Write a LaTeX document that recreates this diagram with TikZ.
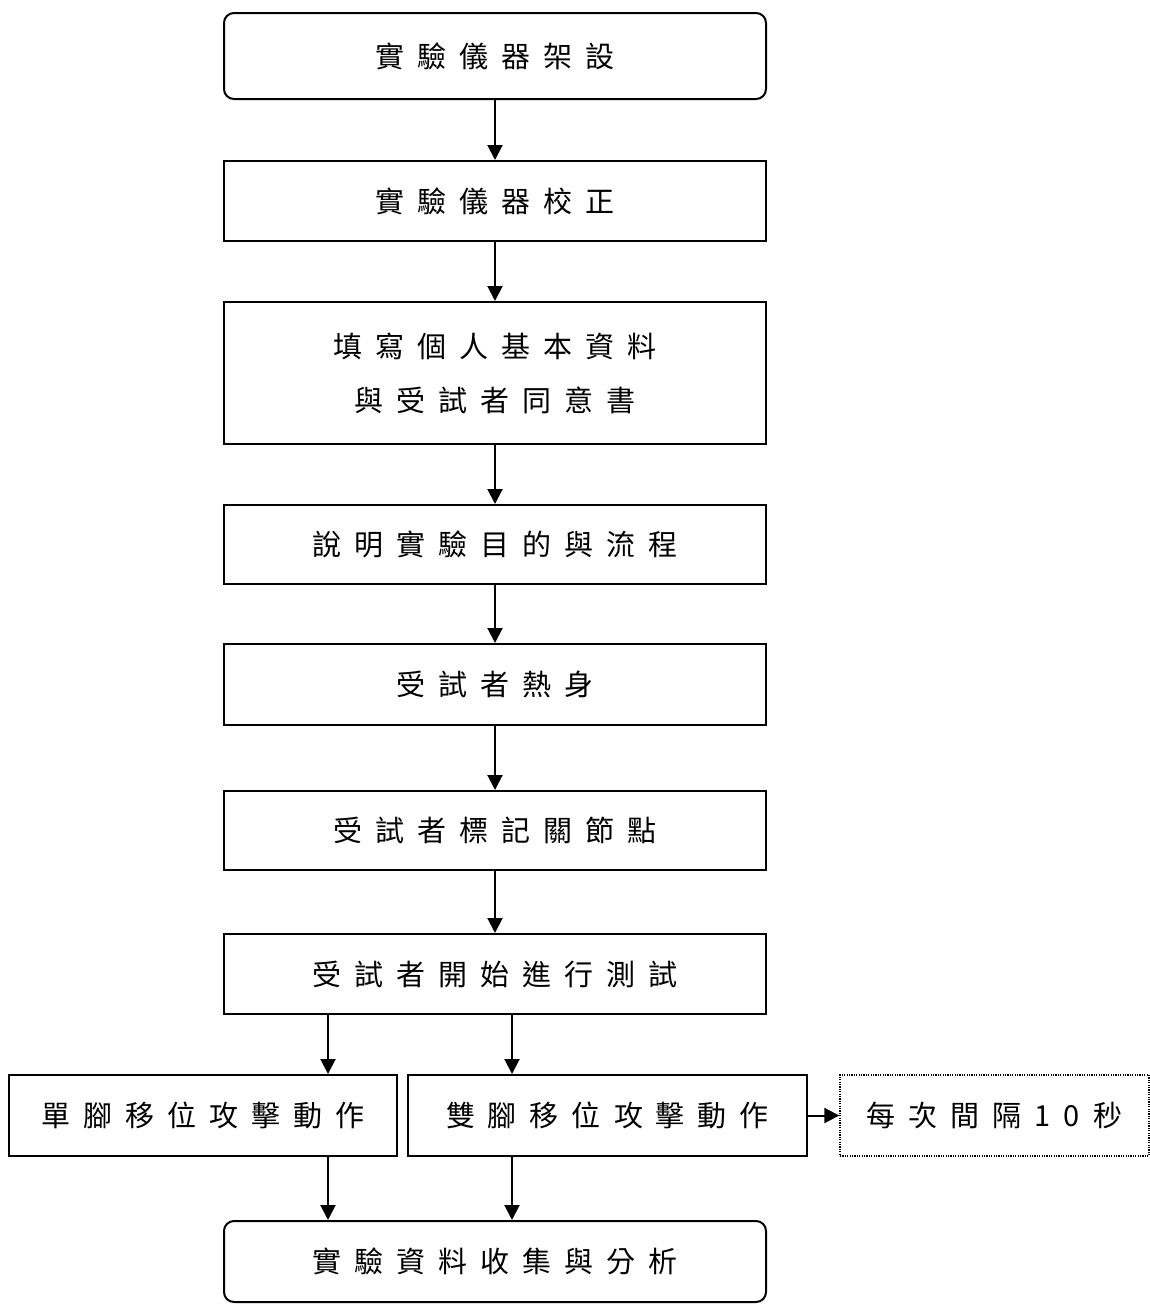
\documentclass[tikz,border=0pt]{standalone}
\usepackage{fontspec}
\newfontfamily\cjk{Noto Sans CJK TC}
\newcommand\boxfont{\cjk\fontsize{29}{54}\selectfont\spaceskip 13pt plus 0pt minus 0pt\relax}
\usetikzlibrary{arrows.meta,calc}
\tikzset{
  box/.style={draw, line width=2pt, inner sep=0pt, minimum width=542pt, minimum height=80pt,
    font=\boxfont, align=center},
  roundbox/.style={box, rounded corners=10pt},
  dotbox/.style={draw, dash pattern=on 1.2pt off 1.2pt, line width=1.4pt, inner sep=0pt, minimum width=309pt, minimum height=81pt,
    font=\boxfont},
  arr/.style={line width=2pt, -{Triangle[length=15pt,width=15pt]}}
}
\begin{document}
\begin{tikzpicture}[x=1pt,y=-1pt]
\useasboundingbox (0,0) rectangle (1150,1304);
\node[roundbox, minimum height=86pt] (b1) at (495,56) {實 驗 儀 器 架 設};
\node[box] (b2) at (495,201) {實 驗 儀 器 校 正};
\node[box, minimum height=142pt] (b3) at (495,373) {填 寫 個 人 基 本 資 料\\與 受 試 者 同 意 書};
\node[box, minimum height=79pt] (b4) at (495,544.5) {說 明 實 驗 目 的 與 流 程};
\node[box, minimum height=81pt] (b5) at (495,684.5) {受 試 者 熱 身};
\node[box, minimum height=79pt] (b6) at (495,830.5) {受 試 者 標 記 關 節 點};
\node[box] (b7) at (495,974) {受 試 者 開 始 進 行 測 試};
\node[box, minimum width=388pt, minimum height=81pt] (L) at (203,1115.5) {單 腳 移 位 攻 擊 動 作};
\node[box, minimum width=399pt, minimum height=81pt] (R) at (607.5,1115.5) {雙 腳 移 位 攻 擊 動 作};
\node[dotbox] (D) at (994.5,1115.5) {每 次 間 隔 1 0 秒};
\node[roundbox, minimum height=81pt] (b8) at (495,1261.5) {實 驗 資 料 收 集 與 分 析};
\coordinate (xl) at (328,0);
\coordinate (xr) at (512,0);
\draw[arr] (b1) -- (b2);
\draw[arr] (b2) -- (b3);
\draw[arr] (b3) -- (b4);
\draw[arr] (b4) -- (b5);
\draw[arr] (b5) -- (b6);
\draw[arr] (b6) -- (b7);
\draw[arr] (b7.south -| xl) -- (L.north -| xl);
\draw[arr] (b7.south -| xr) -- (R.north -| xr);
\draw[arr] (L.south -| xl) -- (b8.north -| xl);
\draw[arr] (R.south -| xr) -- (b8.north -| xr);
\draw[arr] (R.east) -- (D.west);
\end{tikzpicture}
\end{document}
